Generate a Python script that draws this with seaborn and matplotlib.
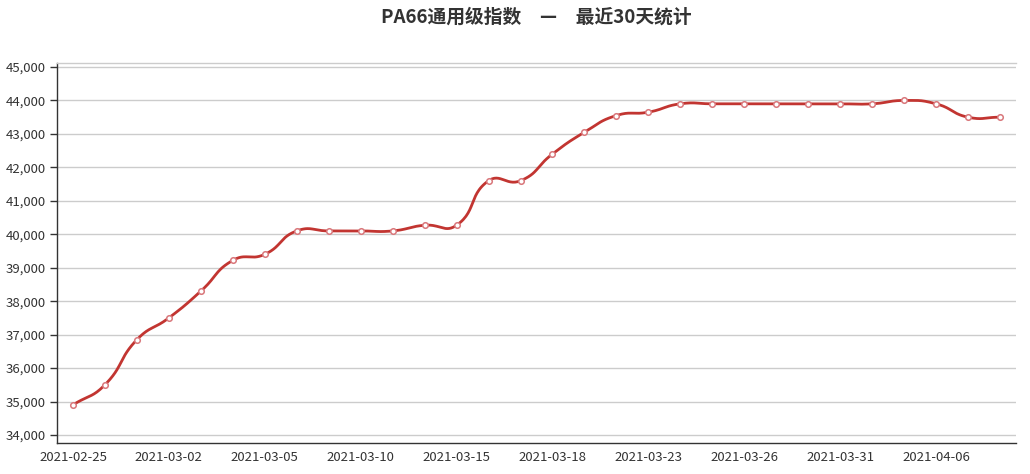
import numpy as np
import pandas as pd
import matplotlib
matplotlib.use("Agg")
import matplotlib.pyplot as plt
import seaborn as sns
from matplotlib.ticker import FuncFormatter

# dados
dates = ['2021-02-25', '2021-02-26', '2021-03-01', '2021-03-02', '2021-03-03',
         '2021-03-04', '2021-03-05', '2021-03-08', '2021-03-09', '2021-03-10',
         '2021-03-11', '2021-03-12', '2021-03-15', '2021-03-16', '2021-03-17',
         '2021-03-18', '2021-03-19', '2021-03-22', '2021-03-23', '2021-03-24',
         '2021-03-25', '2021-03-26', '2021-03-29', '2021-03-30', '2021-03-31',
         '2021-04-01', '2021-04-02', '2021-04-06', '2021-04-07', '2021-04-08']
prices = [34900, 35500, 36850, 37500, 38300, 39220, 39400, 40100, 40100, 40100,
          40100, 40270, 40270, 41600, 41600, 42400, 43050, 43550, 43650, 43900,
          43900, 43900, 43900, 43900, 43900, 43900, 44000, 43900, 43500, 43500]
title = 'PA66通用级指数\u3000—\u3000最近30天统计'

sns.set_theme(style="white")
plt.rcParams['font.family'] = ['Noto Sans CJK SC', 'DejaVu Sans']

df = pd.DataFrame({'data': dates, 'preco': prices})
df['i'] = np.arange(len(df))

# curva suave parecida com a do echarts (bezier com smooth=0.5)
def curva_suave(xs, ys, smooth=0.5, sx=32.0, sy=33.45 / 1000, n=30):
    px = np.array(xs, float) * sx
    py = np.array(ys, float) * sy
    m = len(px)
    cp_in = []
    cp_out = []
    for k in range(m):
        prev = max(k - 1, 0)
        nxt = min(k + 1, m - 1)
        vx = px[nxt] - px[prev]
        vy = py[nxt] - py[prev]
        l0 = np.hypot(px[k] - px[prev], py[k] - py[prev])
        l1 = np.hypot(px[nxt] - px[k], py[nxt] - py[k])
        r = l1 / (l0 + l1) if (l0 + l1) > 0 else 0.5
        cp_in.append((px[k] - vx * smooth * (1 - r), py[k] - vy * smooth * (1 - r)))
        cp_out.append((px[k] + vx * smooth * r, py[k] + vy * smooth * r))
    out_x, out_y = [], []
    t = np.linspace(0, 1, n)
    for k in range(m - 1):
        p0 = np.array([px[k], py[k]])
        p1 = np.array(cp_out[k])
        p2 = np.array(cp_in[k + 1])
        p3 = np.array([px[k + 1], py[k + 1]])
        b = ((1 - t) ** 3)[:, None] * p0 + (3 * (1 - t) ** 2 * t)[:, None] * p1 \
            + (3 * (1 - t) * t ** 2)[:, None] * p2 + (t ** 3)[:, None] * p3
        out_x.extend(b[:, 0] / sx)
        out_y.extend(b[:, 1] / sy)
    return np.array(out_x), np.array(out_y)

cx, cy = curva_suave(df['i'], df['preco'])
curva = pd.DataFrame({'x': cx, 'y': cy})

fig = plt.figure(figsize=(10.3, 4.74), dpi=100)
ax = fig.add_axes([57 / 1030, 1 - 443 / 474, (1016 - 57) / 1030, (443 - 63) / 474])

sns.lineplot(data=curva, x='x', y='y', ax=ax, color='#c23531', linewidth=2, sort=False, zorder=3)
sns.scatterplot(data=df, x='i', y='preco', ax=ax, s=16, marker='o', color='white',
                edgecolor='#d9777b', linewidth=1.1, zorder=4)

ax.set_xlim(-0.5, len(dates) - 0.5)
ax.set_ylim(33760, 45120)
ax.set_yticks(range(34000, 45001, 1000))
ax.yaxis.set_major_formatter(FuncFormatter(lambda v, p: f'{int(v):,}'))
ax.grid(axis='y', color='#cccccc', linewidth=1)
ax.set_axisbelow(True)

# rotulos a cada 3 categorias, marcas nas fronteiras
ax.set_xticks(range(0, len(dates), 3))
ax.set_xticklabels(dates[::3])
ax.set_xticks(np.arange(1.5, len(dates), 3), minor=True)
ax.tick_params(axis='x', which='major', length=0, pad=6, labelsize=9.5, colors='#333333')
ax.tick_params(axis='x', which='minor', length=5, width=1, color='#333333', direction='out')
ax.tick_params(axis='y', length=5, width=1, color='#333333', pad=3, labelsize=9.5,
               labelcolor='#333333', left=True, direction='out')

for s in ['left', 'bottom']:
    ax.spines[s].set_color('#333333')
    ax.spines[s].set_linewidth(1)
ax.spines['right'].set_visible(False)
ax.spines['top'].set_color('#cccccc')
ax.spines['top'].set_linewidth(1)
ax.set_xlabel('')
ax.set_ylabel('')

fig.text((57 + 1016) / 2 / 1030, 1 - 17 / 474, title, ha='center', va='center',
         fontsize=13.5, fontweight='bold', color='#333333')

fig.savefig('out.png', dpi=100)
plt.close()
